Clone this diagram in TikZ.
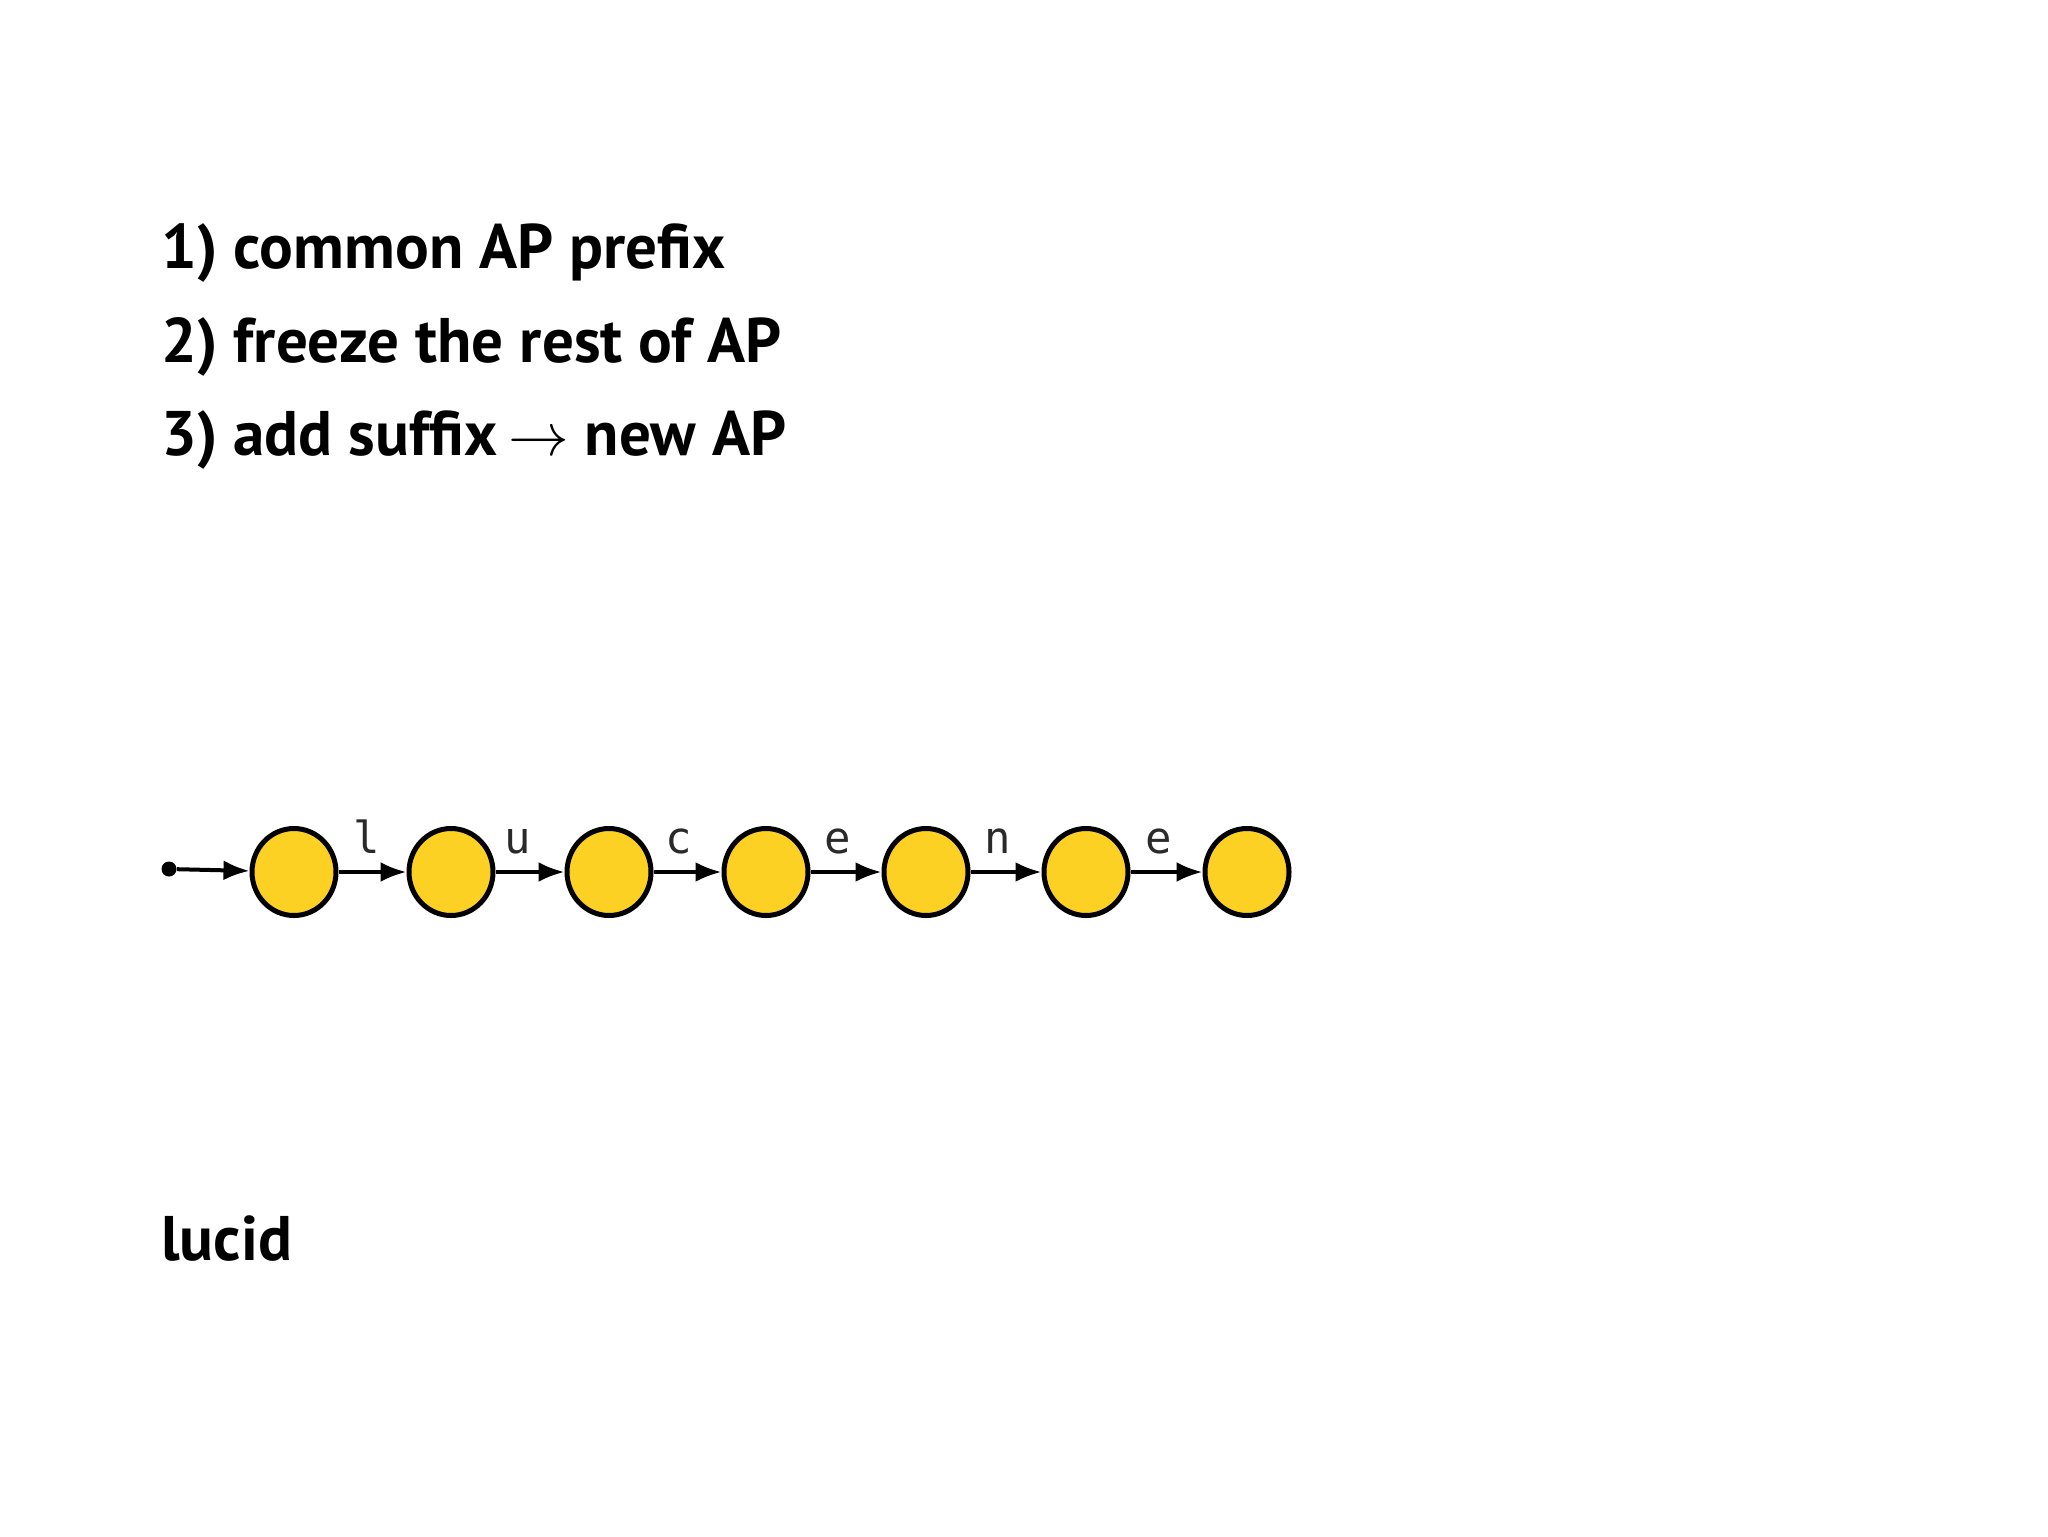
\documentclass[tikz,border=0pt]{standalone}
\usepackage{fontspec}
\usepackage{graphicx}
\setmainfont{PT Sans}
\newfontfamily\headfont{PT Sans Bold}
\newfontfamily\monof{DejaVu Sans Mono}
\usetikzlibrary{arrows.meta,shapes.geometric}
\definecolor{stateyellow}{HTML}{FDD123}
\definecolor{labgray}{HTML}{2A2A2A}
\tikzset{
  headtext/.style={anchor=base west, inner sep=0pt, font=\headfont\fontsize{31.5pt}{33pt}\selectfont},
  state/.style={ellipse, draw=black, line width=2.5pt, fill=stateyellow, minimum width=42pt, minimum height=43.5pt, inner sep=0pt},
  trans/.style={line width=2pt, -{Latex[length=13pt,width=10pt]}},
  lab/.style={font=\monof\fontsize{22pt}{24pt}\selectfont, text=labgray, inner sep=0pt, anchor=base}
}
\begin{document}
\begin{tikzpicture}[x=0.5pt,y=-0.5pt]
\useasboundingbox[fill=white] (0,0) rectangle (2048,1536);
\node[headtext] (t1) at (161,268) {1) common AP prefix};
\node[headtext] (t2) at (161,362) {2) freeze the rest of AP};
\node[headtext] (t3) at (161,455) {3) add suffix\hspace{-2.5pt} \scalebox{1.22}{$\rightarrow$} new AP};
\node[headtext] (t4) at (161,1260) {lucid};
\node[circle, fill=black, minimum size=7.5pt, inner sep=0pt] (s) at (169,869) {};
\node[state] (q1) at (294,872) {};
\node[state] (q2) at (451,872) {};
\node[state] (q3) at (609,872) {};
\node[state] (q4) at (766,872) {};
\node[state] (q5) at (926,872) {};
\node[state] (q6) at (1086,872) {};
\node[state] (q7) at (1247,872) {};
\draw[trans] (s) -- (q1);
\draw[trans] (q1) -- (q2);
\draw[trans] (q2) -- (q3);
\draw[trans] (q3) -- (q4);
\draw[trans] (q4) -- (q5);
\draw[trans] (q5) -- (q6);
\draw[trans] (q6) -- (q7);
\node[lab] (l1) at (367,853) {l};
\node[lab] (l2) at (518,853) {u};
\node[lab] (l3) at (679,853) {c};
\node[lab] (l4) at (838,853) {e};
\node[lab] (l5) at (998,853) {n};
\node[lab] (l6) at (1159,853) {e};
\end{tikzpicture}
\end{document}
